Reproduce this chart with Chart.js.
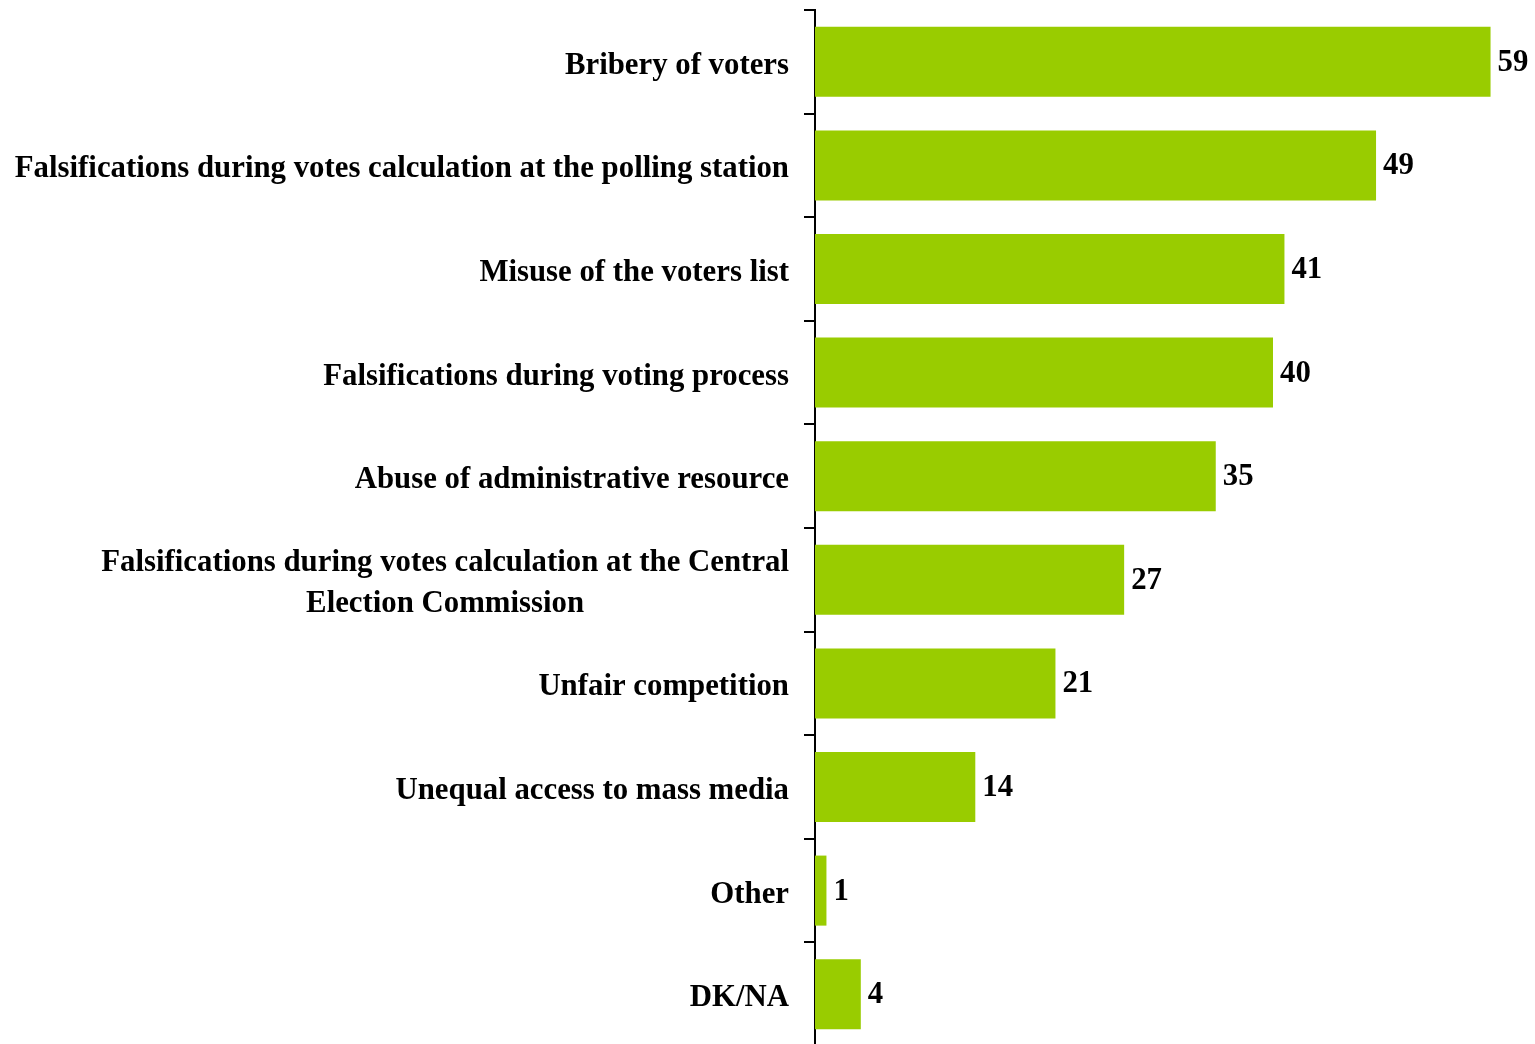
<!DOCTYPE html>
<html>
<head>
<meta charset="utf-8">
<script src="https://cdn.jsdelivr.net/npm/chart.js@4.4.0/dist/chart.umd.min.js"></script>
<style>
  html, body { margin: 0; padding: 0; background: #fff; overflow: hidden; }
  #wrap { width: 1535px; height: 1046px; position: relative; }
</style>
</head>
<body>
<div id="wrap"><canvas id="grafica"></canvas></div>
<script>
const categorias = [
  "Bribery of voters",
  "Falsifications during votes calculation at the polling station",
  "Misuse of the voters list",
  "Falsifications during voting process",
  "Abuse of administrative resource",
  ["Falsifications during votes calculation at the Central", "Election Commission"],
  "Unfair competition",
  "Unequal access to mass media",
  "Other",
  "DK/NA"
];
const valores = [59, 49, 41, 40, 35, 27, 21, 14, 1, 4];

const fuente = "bold 30.8px 'Liberation Serif', 'Times New Roman', serif";

// etiquetas de categoria (lineas centradas entre si, bloque alineado a la derecha)
const etiquetasPlugin = {
  id: "etiquetas",
  afterDraw(chart) {
    const ctx = chart.ctx;
    const y = chart.scales.y;
    const derecha = chart.chartArea.left - 26;
    ctx.save();
    ctx.font = fuente;
    ctx.fillStyle = "#000";
    ctx.textBaseline = "middle";
    categorias.forEach((cat, i) => {
      const lineas = Array.isArray(cat) ? cat : [cat];
      const anchos = lineas.map(l => ctx.measureText(l).width);
      const maxAncho = Math.max(...anchos);
      const centroX = derecha - maxAncho / 2;
      const cy = y.getPixelForValue(i) + 4;
      const alto = 41;
      lineas.forEach((l, j) => {
        ctx.textAlign = "center";
        ctx.fillText(l, centroX, cy + (j - (lineas.length - 1) / 2) * alto);
      });
    });
    // valores al final de cada barra
    const meta = chart.getDatasetMeta(0);
    ctx.textAlign = "left";
    meta.data.forEach((bar, i) => {
      ctx.fillText(String(valores[i]), bar.x + 7, bar.y + 1);
    });
    ctx.restore();
  }
};

new Chart(document.getElementById("grafica"), {
  type: "bar",
  data: {
    labels: categorias,
    datasets: [{
      data: valores,
      backgroundColor: "#99CC00",
      borderWidth: 0,
      barPercentage: 0.676,
      categoryPercentage: 1
    }]
  },
  options: {
    indexAxis: "y",
    responsive: true,
    maintainAspectRatio: false,
    animation: false,
    layout: { padding: { left: 0, right: 33, top: 10, bottom: 0 } },
    plugins: {
      legend: { display: false },
      tooltip: { enabled: false }
    },
    scales: {
      x: {
        display: false,
        min: 0,
        max: 60
      },
      y: {
        offset: true,
        border: { display: true, color: "#000", width: 2 },
        grid: {
          offset: true,
          drawOnChartArea: false,
          drawTicks: true,
          tickLength: 11,
          color: "#000",
          lineWidth: 2
        },
        ticks: { display: false },
        afterFit(scale) { scale.width = 815; }
      }
    }
  },
  plugins: [etiquetasPlugin]
});
</script>
</body>
</html>
